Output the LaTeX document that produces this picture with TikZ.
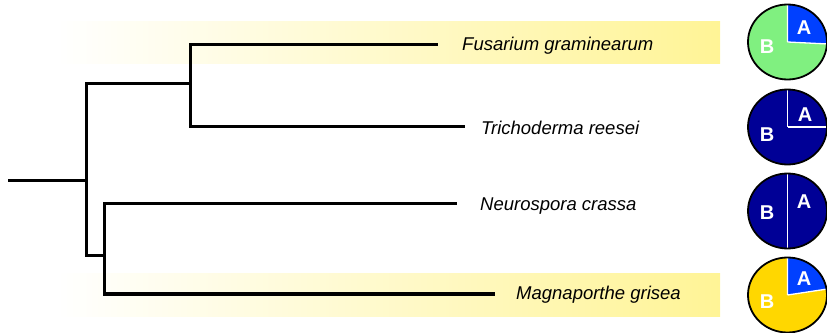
\documentclass[tikz,border=0pt]{standalone}
\usepackage{fontspec}
\usepackage{tikz}
\newfontfamily\labelfont{Liberation Sans}
\definecolor{bandyellow}{RGB}{255,244,150}
\definecolor{pieblue}{RGB}{0,64,255}
\definecolor{pienavy}{RGB}{0,0,150}
\definecolor{piegreen}{RGB}{128,240,128}
\definecolor{pieyellow}{RGB}{255,215,0}

\begin{document}
\begin{tikzpicture}[x=1pt, y=1pt,
    branch/.style={line width=3pt, line join=miter},
    species/.style={anchor=west, inner sep=0pt, font=\labelfont\itshape\fontsize{18.5}{22}\selectfont},
    part/.style={text=white, inner sep=0pt, font=\labelfont\bfseries\fontsize{20}{22}\selectfont},
    divider/.style={white, line width=1.3pt},
    rim/.style={black, line width=1.8pt}]
  \useasboundingbox (0,0) rectangle (827,332);
  % highlighted rows
  \fill[left color=white, right color=bandyellow] (57,268) rectangle (720,310);
  \fill[left color=white, right color=bandyellow] (57,16) rectangle (720,58);
  % tree
  \coordinate (root) at (8,151);
  \coordinate (n0) at (86,151);
  \coordinate (n1) at (190,248);
  \coordinate (n2) at (104,76);
  \coordinate (fg) at (438,287);
  \coordinate (tr) at (465,205);
  \coordinate (nc) at (457,128);
  \coordinate (mg) at (495,38);
  \draw[branch] (root) -- (n0);
  \draw[branch] (n0) |- (n1);
  \draw[branch] (n0) |- (n2);
  \draw[branch] (n1) |- (fg);
  \draw[branch] (n1) |- (tr);
  \draw[branch] (n2) |- (nc);
  \draw[branch] (n2) |- (mg);
  \node[species] (lfg) at (462,286) {Fusarium graminearum};
  \node[species] (ltr) at (481,204) {Trichoderma reesei};
  \node[species] (lnc) at (480,126) {Neurospora crassa};
  \node[species] (lmg) at (516,37) {Magnaporthe grisea};
  % pies
  \coordinate (pfg) at (787.5,290);
  \coordinate (ptr) at (787.5,205);
  \coordinate (pnc) at (787.5,121);
  \coordinate (pmg) at (787.5,37);
  \fill[piegreen] (pfg) ellipse[x radius=39.5, y radius=37.5];
  \fill[pieblue] (pfg) -- ++(-3:39.5 and 37.5) arc[start angle=-3, end angle=90, x radius=39.5, y radius=37.5] -- cycle;
  \draw[divider] (pfg) -- ++(90:39.5 and 37.5) (pfg) -- ++(-3:39.5 and 37.5);
  \draw[rim] (pfg) ellipse[x radius=39.5, y radius=37.5];
  \fill[pienavy] (ptr) ellipse[x radius=39.5, y radius=37.5];
  \draw[divider] (ptr) -- ++(90:39.5 and 37.5) (ptr) -- ++(0:39.5 and 37.5);
  \draw[rim] (ptr) ellipse[x radius=39.5, y radius=37.5];
  \fill[pienavy] (pnc) ellipse[x radius=39.5, y radius=37.5];
  \draw[divider] (pnc) -- ++(90:39.5 and 37.5) (pnc) -- ++(-90:39.5 and 37.5);
  \draw[rim] (pnc) ellipse[x radius=39.5, y radius=37.5];
  \fill[pieyellow] (pmg) ellipse[x radius=39.5, y radius=37.5];
  \fill[pieblue] (pmg) -- ++(9:39.5 and 37.5) arc[start angle=9, end angle=90, x radius=39.5, y radius=37.5] -- cycle;
  \draw[divider] (pmg) -- ++(90:39.5 and 37.5) (pmg) -- ++(9:39.5 and 37.5);
  \draw[rim] (pmg) ellipse[x radius=39.5, y radius=37.5];
  \node[part] (afg) at (804,304) {A};
  \node[part] (bfg) at (767,285) {B};
  \node[part] (atr) at (805,217) {A};
  \node[part] (btr) at (767,197) {B};
  \node[part] (anc) at (804,130) {A};
  \node[part] (bnc) at (767,119) {B};
  \node[part] (amg) at (804,53) {A};
  \node[part] (bmg) at (767,30) {B};
\end{tikzpicture}
\end{document}
